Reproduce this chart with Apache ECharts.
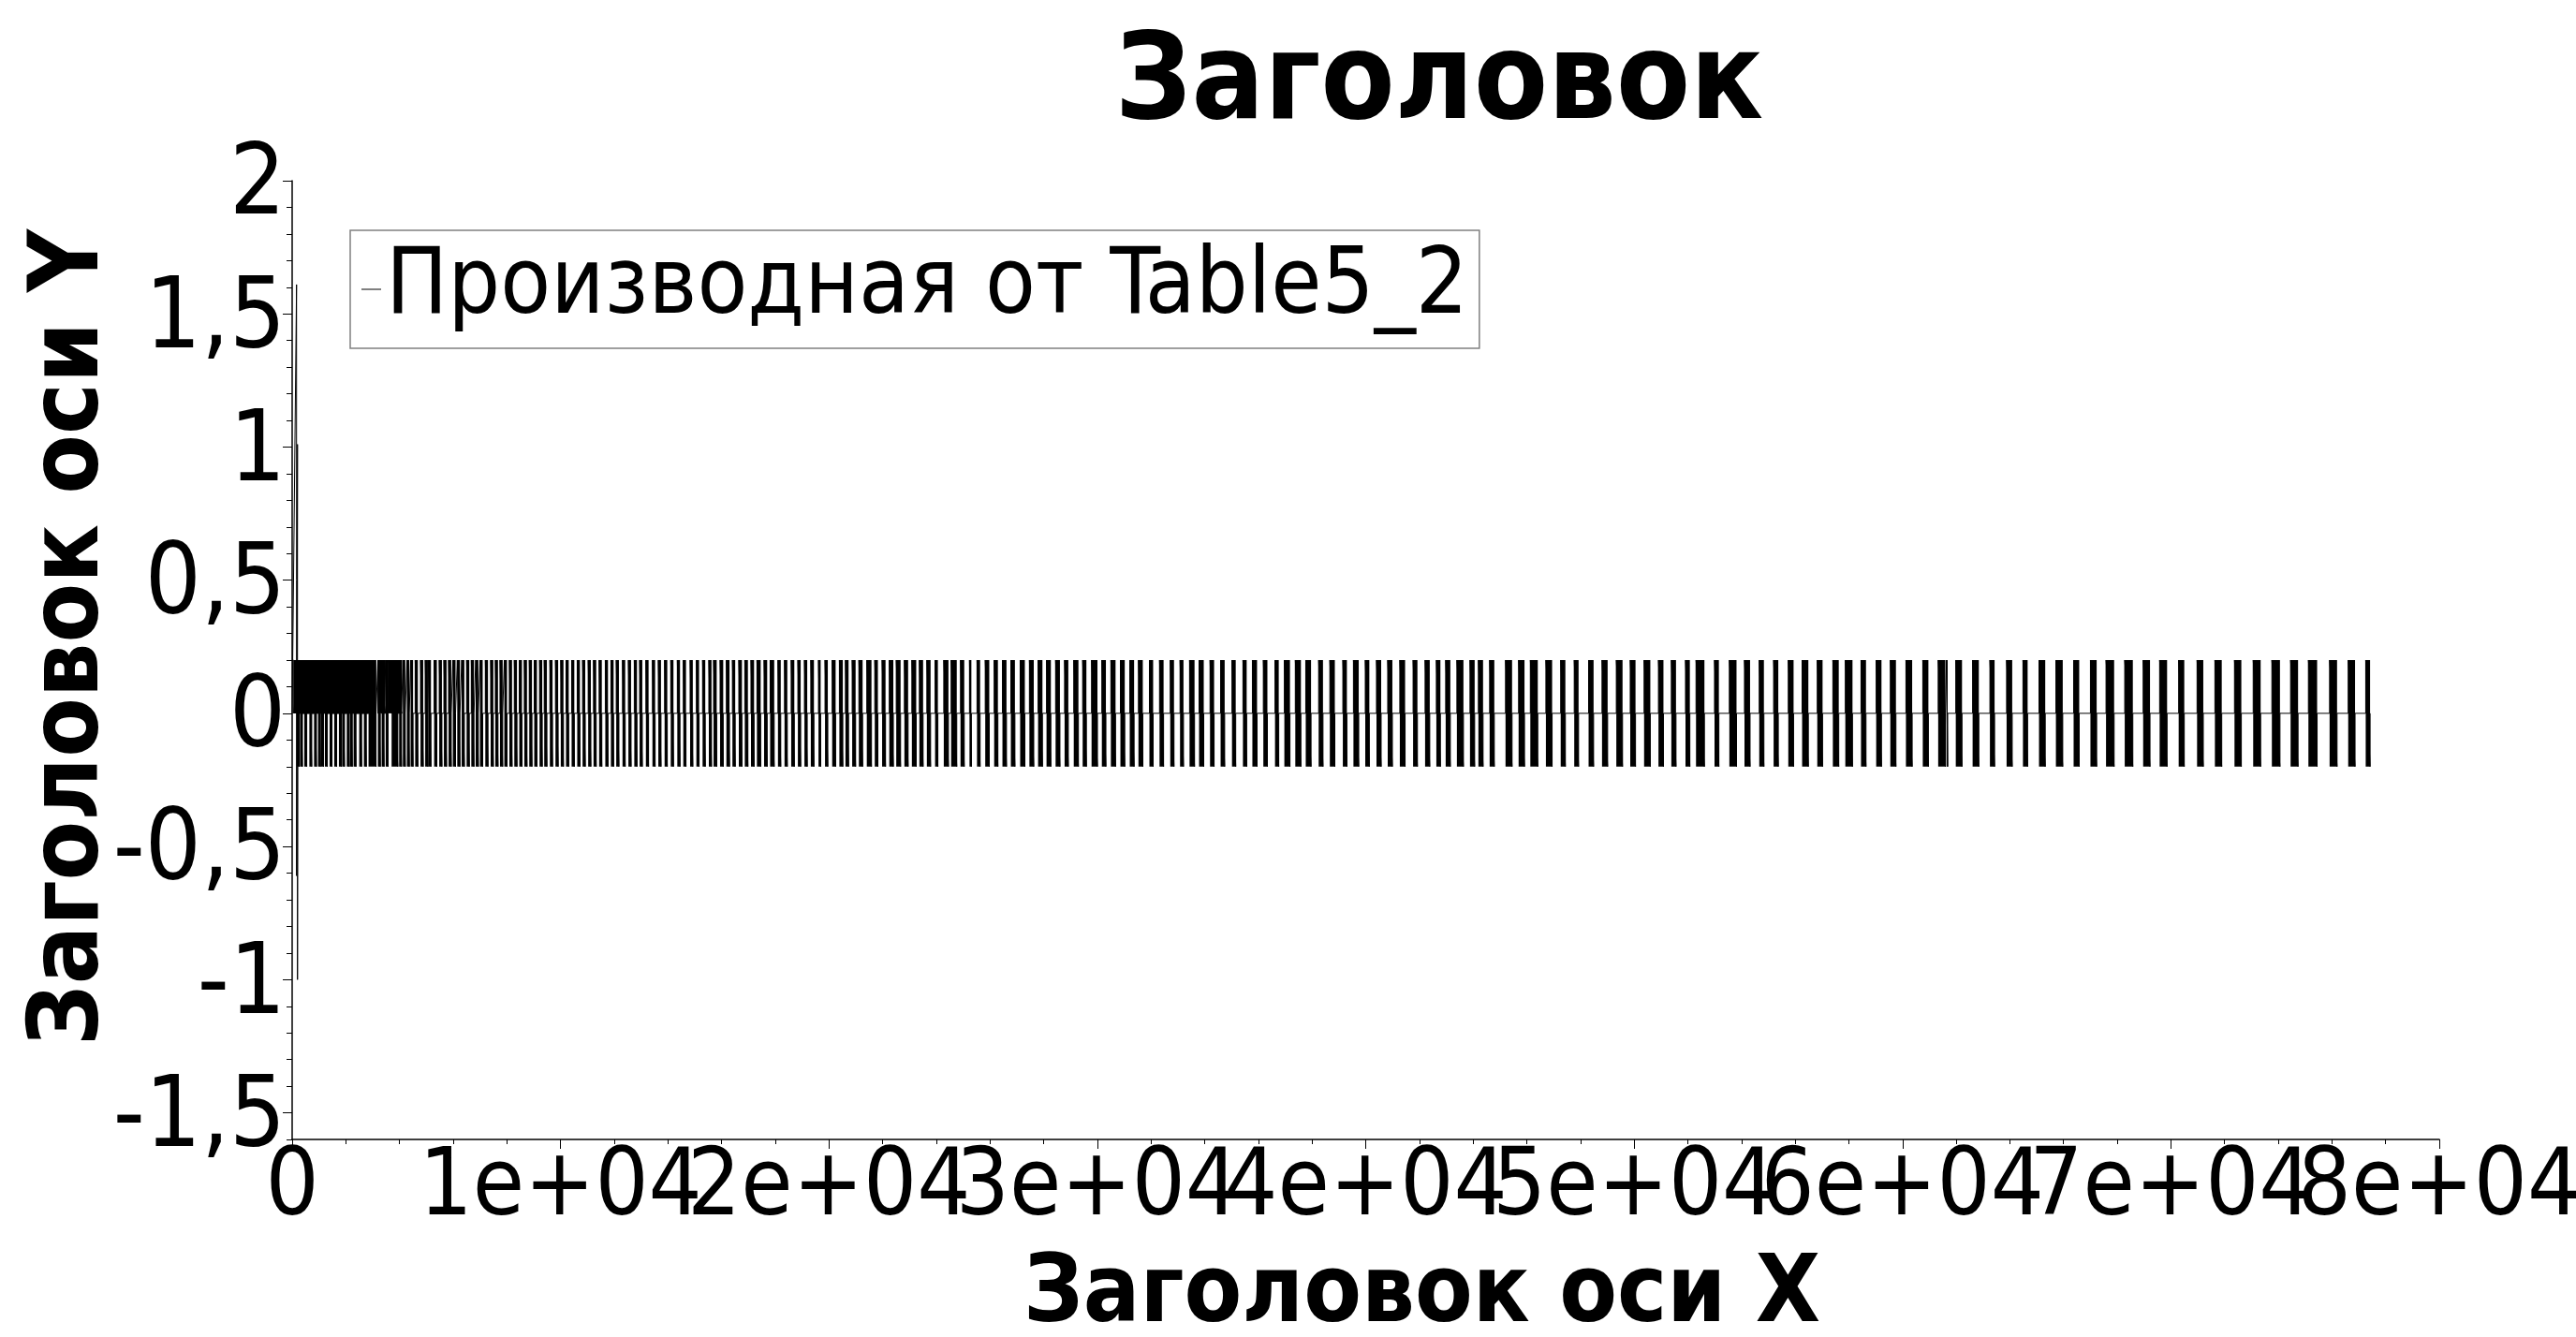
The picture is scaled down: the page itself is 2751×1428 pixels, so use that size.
<!DOCTYPE html>
<html>
<head>
<meta charset="utf-8">
<script src="https://cdn.jsdelivr.net/npm/echarts@6/dist/echarts.min.js"></script>
<style>html,body{margin:0;padding:0;background:#fff}#c{width:2751px;height:1428px}</style>
</head>
<body>
<div id="c"></div>
<script>
// ---- data (x in axis units, y in axis units) ----
const chartTitle = 'Заголовок';
const xTitle = 'Заголовок оси X';
const yTitle = 'Заголовок оси Y';
const seriesName = 'Производная от Table5_2';
const yTickLabels = ['-1,5', '-1', '-0,5', '0', '0,5', '1', '1,5', '2'];
const xTickLabels = ['0', '1e+04', '2e+04', '3e+04', '4e+04', '5e+04', '6e+04', '7e+04', '8e+04'];
const pulseLevel = 0.2;
const seriesEnd = 77420;
// initial transient [x, y]
const startSpike = [[0, 0], [164, 1.61], [164, -0.61], [199, 1.01], [199, -1.0], [215, 0.2]];
// intervals held at +level in the dense part [start, end]
const highBlocks = [[60, 3130], [3200, 3480], [3570, 4090]];
// pulses swinging between +level and -level: [centre, duration]
const pulsesDense = [[220,90],[338,90],[498,90],[686,90],[861,90],[1010,90],[1125,90],[1265,90],[1439,90],[1613,90],[1787,90],[1906,90],[2080,90],[2195,90],[2334,90],[2543,90],[2718,90],[2986,280],[3240,90],[3380,90],[3530,90],[3822,233],[4031,90],[4171,90],[4321,90],[4460,90]];
const pulsesA = [[4634,100],[4833,100],[5007,100],[5122,100],[5341,100],[5530,100],[5704,100],[5878,100],[6038,100],[6202,100],[6366,100],[6550,100],[6725,100],[6888,100],[7049,100],[7247,100],[7446,100],[7620,100],[7794,100],[7955,100],[8143,100],[8327,100],[8512,100],[8700,100],[8885,100],[9070,100],[9268,100],[9442,100],[9652,100],[9861,100],[10059,100],[10254,100],[10463,100],[10672,100],[10871,100],[11080,100],[11279,100],[11488,100],[11718,100],[11927,100],[12125,100],[12359,100],[12578,100],[12798,100],[12996,100],[13230,100],[13474,100],[13693,100],[13927,100],[14157,100],[14401,100],[14624,100],[14878,100],[15111,100],[15342,100],[15575,100]];
const pulsesB = [[15760,116],[16003,116],[16237,116],[16456,104],[16700,116],[16923,116],[17153,116],[17387,139],[17641,116],[17885,151],[18153,104],[18397,104],[18652,116],[18895,104],[19139,104],[19383,116],[19651,81],[19906,104],[20185,128],[20453,128],[20673,116],[20930,128],[21185,139],[21498,174],[21766,116],[22045,128],[22324,151],[22589,162],[22881,139],[23171,162],[23439,139],[23718,139],[24007,104],[24366,174],[24658,209],[24972,139],[25272,70],[25575,116],[25899,151],[26226,139],[26540,151],[26854,151],[27212,174],[27550,162],[27874,162],[28188,162],[28526,162],[28850,139],[29209,174],[29523,139],[29895,220],[30244,151],[30592,174],[30941,162],[31289,162]];
const pulsesC = [[31613,162],[32010,139],[32393,151],[32787,139],[33146,128],[33529,186],[33878,174],[34275,151],[34669,151],[35087,139],[35495,139],[35864,174],[36261,151],[36690,139],[37073,209],[37481,209],[37864,197],[38327,162],[38756,186],[39223,151],[39641,197],[40059,151],[40488,174],[40906,174],[41369,197],[41846,162],[42299,174],[42707,151],[43066,174],[43519,244],[43972,174],[44285,174],[44704,174],[45331,244],[45806,220],[46272,278],[46829,232]];
const pulsesD = [[47352,174],[47850,162],[48397,186],[48909,209],[49453,232],[49954,197],[50488,232],[51000,186],[51474,174],[51996,162],[52463,313],[53077,162],[53682,267],[54216,209],[54749,174],[55285,174],[55843,197],[56376,232],[56923,197],[57515,220],[58003,267],[58547,186],[59118,197],[59651,209],[60244,232],[60860,209],[61463,267],[61661,46],[62101,232],[62728,232]];
const pulsesE = [[63344,174],[63983,209],[64575,174],[65202,232],[65843,255],[66480,209],[67118,232],[67734,302],[68431,302],[69094,255],[69719,278],[70394,209],[71091,232],[71767,255],[72497,255],[73205,278],[73913,302],[74599,278],[75286,325],[76052,278],[76734,255],[77340,163]];

// ---- build series data ----
const pulses = [].concat(pulsesDense, pulsesA, pulsesB, pulsesC, pulsesD, pulsesE);
const intervals = [];
highBlocks.forEach(b => intervals.push({s: b[0], e: b[1], hi: pulseLevel, lo: 0}));
pulses.forEach(p => intervals.push({s: p[0] - p[1] / 2, e: p[0] + p[1] / 2, hi: pulseLevel, lo: -pulseLevel}));
intervals.sort((a, b) => a.s - b.s);

const lineData = startSpike.slice();
intervals.forEach(iv => {
  lineData.push([iv.s, 0], [iv.s, iv.hi], [iv.e, iv.lo], [iv.e, 0]);
});
lineData.push([seriesEnd, 0]);
const rectData = intervals.map(iv => [iv.s, iv.e, iv.hi, iv.lo]);

const FONT = "'DejaVu Sans Condensed', 'DejaVu Sans', sans-serif";

const chart = echarts.init(document.getElementById('c'), null, {renderer: 'canvas'});
chart.setOption({
  animation: false,
  backgroundColor: '#ffffff',
  title: {
    text: chartTitle,
    left: 1532, top: 24, textAlign: 'center',
    textStyle: {fontFamily: FONT, fontSize: 128, fontWeight: 'bold', color: '#000'}
  },
  legend: {
    data: [seriesName],
    left: 374, top: 246,
    padding: [14, 12, 14, 12],
    icon: 'rect',
    itemWidth: 21, itemHeight: 2,
    itemStyle: {color: '#808080'},
    borderColor: '#808080', borderWidth: 1.5, borderRadius: 0,
    textStyle: {fontFamily: FONT, fontSize: 98, color: '#000', padding: [0, 0, 0, 0]}
  },
  grid: {left: 312, right: 146, top: 193, bottom: 211, containLabel: false, outerBoundsMode: 'none'},
  xAxis: [{
    type: 'value', min: 0, max: 80000, interval: 2000,
    name: xTitle, nameLocation: 'middle', nameGap: 118,
    nameTextStyle: {fontFamily: FONT, fontSize: 100, fontWeight: 'bold', color: '#000', padding: [0, 0, 0, 120]},
    axisLine: {show: true, onZero: false, lineStyle: {color: '#000', width: 1.5}},
    axisTick: {show: true, length: 5, lineStyle: {color: '#000', width: 1}},
    splitLine: {show: false},
    axisLabel: {
      margin: 4, color: '#000', fontFamily: FONT, fontSize: 100,
      formatter: v => (Math.round(v) % 10000 === 0 ? xTickLabels[Math.round(v / 10000)] : '')
    }
  }, {
    type: 'value', min: 0, max: 80000, interval: 10000, position: 'bottom',
    axisLine: {show: false, onZero: false}, axisLabel: {show: false}, splitLine: {show: false},
    axisTick: {show: true, length: 10, lineStyle: {color: '#000', width: 1}}
  }],
  yAxis: [{
    type: 'value', min: -1.6, max: 2, interval: 0.1,
    name: yTitle, nameLocation: 'middle', nameGap: 183, nameRotate: 90, nameMoveOverlap: false,
    nameTextStyle: {fontFamily: FONT, fontSize: 103, fontWeight: 'bold', color: '#000', padding: [0, 0, 0, 48]},
    axisLine: {show: true, onZero: false, lineStyle: {color: '#000', width: 1.5}},
    axisTick: {show: true, length: 6, lineStyle: {color: '#000', width: 1}},
    splitLine: {show: false},
    axisLabel: {
      margin: 7, color: '#000', fontFamily: FONT, fontSize: 105,
      rich: {v: {fontFamily: FONT, fontSize: 105, color: '#000', padding: [16, 0, 0, 0]}},
      formatter: v => {
        const r = Math.round(v * 10);
        if (r % 5 !== 0) return '';
        const t = yTickLabels[r / 5 + 3];
        return t ? '{v|' + t + '}' : '';
      }
    }
  }, {
    type: 'value', min: -1.6, max: 2, position: 'left',
    axisLine: {show: false, onZero: false}, axisLabel: {show: false}, splitLine: {show: false},
    axisTick: {show: true, length: 10, customValues: [-1.5, -1, -0.5, 0, 0.5, 1, 1.5, 2], lineStyle: {color: '#000', width: 1}}
  }],
  series: [{
    name: seriesName, type: 'line', xAxisIndex: 0, yAxisIndex: 0,
    data: lineData, symbol: 'none', showSymbol: false,
    lineStyle: {color: '#000', width: 1}, itemStyle: {color: '#000'}, z: 2
  }, {
    name: 'pulses', type: 'custom', xAxisIndex: 0, yAxisIndex: 0,
    data: rectData, encode: {x: [0, 1], y: [2, 3]}, z: 3,
    renderItem: (params, api) => {
      const p1 = api.coord([api.value(0), api.value(2)]);
      const p2 = api.coord([api.value(1), api.value(3)]);
      return {
        type: 'rect',
        shape: {x: p1[0], y: p1[1], width: Math.max(p2[0] - p1[0], 1), height: p2[1] - p1[1]},
        style: {fill: '#000'}
      };
    }
  }]
});
</script>
</body>
</html>
